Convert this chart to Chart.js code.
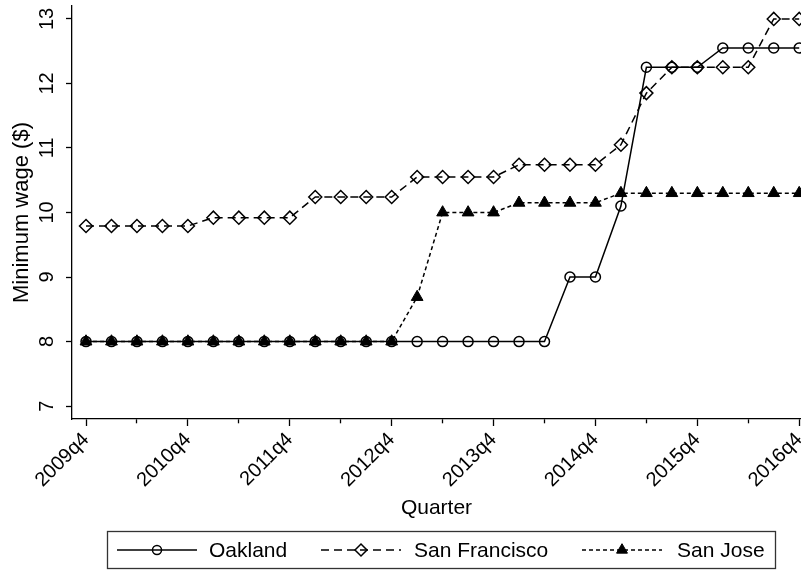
<!DOCTYPE html>
<html>
<head>
<meta charset="utf-8">
<script src="https://cdn.jsdelivr.net/npm/chart.js@4/dist/chart.umd.min.js"></script>
<style>
  html, body { margin: 0; padding: 0; background: #fff; }
</style>
</head>
<body>
<canvas id="chart" width="801" height="570"></canvas>
<script>
// data
const quarters = [
    "2009q4",
    "2010q1", "2010q2", "2010q3", "2010q4",
    "2011q1", "2011q2", "2011q3", "2011q4",
    "2012q1", "2012q2", "2012q3", "2012q4",
    "2013q1", "2013q2", "2013q3", "2013q4",
    "2014q1", "2014q2", "2014q3", "2014q4",
    "2015q1", "2015q2", "2015q3", "2015q4",
    "2016q1", "2016q2", "2016q3", "2016q4"
];
const oakland = [
    8, 8, 8, 8, 8, 8, 8, 8, 8, 8, 8, 8, 8, 8, 8, 8, 8, 8, 8,
    9, 9, 10.1, 12.25, 12.25, 12.25, 12.55, 12.55, 12.55, 12.55
];
const sanFrancisco = [
    9.79, 9.79, 9.79, 9.79, 9.79, 9.92, 9.92, 9.92, 9.92,
    10.24, 10.24, 10.24, 10.24, 10.55, 10.55, 10.55, 10.55,
    10.74, 10.74, 10.74, 10.74, 11.05, 11.85,
    12.25, 12.25, 12.25, 12.25, 13, 13
];
const sanJose = [
    8, 8, 8, 8, 8, 8, 8, 8, 8, 8, 8, 8, 8, 8.69,
    10, 10, 10, 10.15, 10.15, 10.15, 10.15,
    10.3, 10.3, 10.3, 10.3, 10.3, 10.3, 10.3, 10.3
];
const yTicks = [7, 8, 9, 10, 11, 12, 13];
const xTickValues = [0, 2, 4, 6, 8, 10, 12, 14, 16, 18, 20, 22, 24, 26, 28];

const FONT = '"Liberation Sans", Arial, Helvetica, sans-serif';
Chart.defaults.font.family = FONT;
Chart.defaults.color = "#000";

const toPoints = arr => arr.map((v, i) => ({ x: i, y: v }));

// y tick labels are vertical in the original, chart.js can't rotate those
const verticalYLabels = {
    id: "verticalYLabels",
    afterDraw(chart) {
        const ctx = chart.ctx;
        const y = chart.scales.y;
        ctx.save();
        ctx.font = "20px " + FONT;
        ctx.fillStyle = "#000";
        ctx.textAlign = "center";
        ctx.textBaseline = "alphabetic";
        yTicks.forEach(v => {
            ctx.save();
            ctx.translate(53, y.getPixelForValue(v));
            ctx.rotate(-Math.PI / 2);
            ctx.fillText(String(v), 0, 0);
            ctx.restore();
        });
        ctx.restore();
    }
};

// boxed legend with line + marker samples, like stata
const boxLegend = {
    id: "boxLegend",
    afterDraw(chart) {
        const ctx = chart.ctx;
        const slots = [
            { x0: 117, x1: 197, tx: 209 },
            { x0: 321, x1: 401, tx: 414 },
            { x0: 582, x1: 662, tx: 677 }
        ];
        const cy = 550;
        ctx.save();
        ctx.strokeStyle = "#333";
        ctx.lineWidth = 1.3;
        ctx.strokeRect(107.5, 531.5, 668, 37);

        chart.data.datasets.forEach((ds, i) => {
            const s = slots[i];
            ctx.save();
            ctx.strokeStyle = "#000";
            ctx.lineWidth = ds.borderWidth;
            ctx.setLineDash(ds.borderDash || []);
            ctx.beginPath();
            ctx.moveTo(s.x0, cy);
            ctx.lineTo(s.x1, cy);
            ctx.stroke();
            ctx.setLineDash([]);
            ctx.fillStyle = ds.pointBackgroundColor;
            ctx.lineWidth = ds.pointBorderWidth;
            Chart.helpers.drawPoint(ctx, {
                pointStyle: ds.pointStyle,
                radius: ds.pointRadius - 0.5,
                borderWidth: ds.pointBorderWidth,
                rotation: 0
            }, (s.x0 + s.x1) / 2, cy);
            ctx.fillStyle = "#000";
            ctx.font = "21px " + FONT;
            ctx.textBaseline = "middle";
            ctx.fillText(ds.label, s.tx, cy + 1);
            ctx.restore();
        });
        ctx.restore();
    }
};

const canvas = document.getElementById("chart");
const chart = new Chart(canvas.getContext("2d"), {
    type: "line",
    data: {
        datasets: [{
            label: "Oakland",
            data: toPoints(oakland),
            borderColor: "#000",
            borderWidth: 1.5,
            pointStyle: "circle",
            pointRadius: 5,
            pointBorderWidth: 1.5,
            pointBorderColor: "#000",
            pointBackgroundColor: "rgba(0,0,0,0)",
            tension: 0
        }, {
            label: "San Francisco",
            data: toPoints(sanFrancisco),
            borderColor: "#000",
            borderWidth: 1.5,
            borderDash: [8, 5],
            pointStyle: "rectRot",
            pointRadius: 6.5,
            pointBorderWidth: 1.5,
            pointBorderColor: "#000",
            pointBackgroundColor: "rgba(0,0,0,0)",
            tension: 0
        }, {
            label: "San Jose",
            data: toPoints(sanJose),
            borderColor: "#000",
            borderWidth: 1.5,
            borderDash: [4, 3],
            pointStyle: "triangle",
            pointRadius: 6.8,
            pointBorderWidth: 1,
            pointBorderColor: "#000",
            pointBackgroundColor: "#000",
            tension: 0
        }]
    },
    options: {
        responsive: false,
        animation: false,
        devicePixelRatio: 1,
        layout: {
            // no auto room for markers: the original cuts them at the right edge
            autoPadding: false,
            padding: { top: 6, right: 0, bottom: 45, left: 0 }
        },
        scales: {
            x: {
                type: "linear",
                min: -0.55,
                max: 28.07,
                afterBuildTicks: scale => {
                    scale.ticks = xTickValues.map(v => ({ value: v }));
                },
                afterFit: scale => {
                    scale.height = 106;
                    scale.paddingLeft = 0;
                    scale.paddingRight = 0;
                },
                ticks: {
                    autoSkip: false,
                    minRotation: 45,
                    maxRotation: 45,
                    padding: 2,
                    font: { size: 20 },
                    color: "#000",
                    callback: v => (v % 4 === 0 ? quarters[v] : "")
                },
                grid: {
                    drawOnChartArea: false,
                    drawTicks: true,
                    tickLength: 7,
                    tickColor: "#000",
                    tickWidth: 1.3,
                    tickBorderDash: c => (c.tick && c.tick.value % 4 !== 0 ? [4, 30] : [])
                },
                border: { color: "#000", width: 1.3 },
                title: {
                    display: true,
                    text: "Quarter",
                    color: "#000",
                    font: { size: 21 },
                    padding: { top: 4, bottom: 4 }
                }
            },
            y: {
                min: 6.8,
                max: 13.2,
                afterBuildTicks: scale => {
                    scale.ticks = yTicks.map(v => ({ value: v }));
                },
                afterFit: scale => {
                    scale.width = 72;
                    scale.paddingTop = 0;
                    scale.paddingBottom = 0;
                },
                ticks: { display: false },
                grid: {
                    drawOnChartArea: false,
                    drawTicks: true,
                    tickLength: 6,
                    tickColor: "#000",
                    tickWidth: 1.3
                },
                border: { color: "#000", width: 1.3 },
                title: {
                    display: true,
                    text: "Minimum wage ($)",
                    color: "#000",
                    font: { size: 22 },
                    padding: { top: 9, bottom: 0 }
                }
            }
        },
        plugins: {
            legend: { display: false },
            tooltip: { enabled: false }
        }
    },
    plugins: [verticalYLabels, boxLegend]
});
</script>
</body>
</html>
